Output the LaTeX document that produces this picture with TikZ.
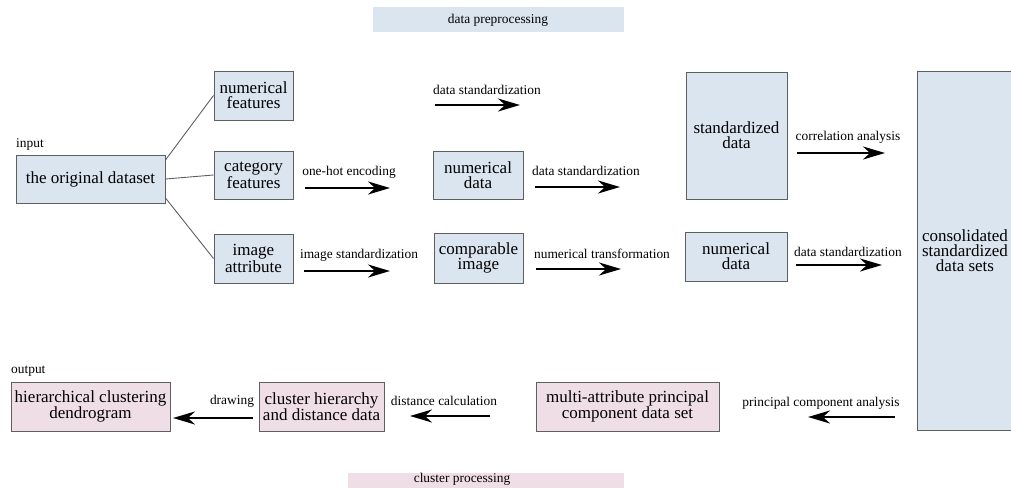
\documentclass[tikz,border=0pt]{standalone}
\usepackage{fontspec}
\setmainfont{Liberation Serif}
\newfontfamily\boxfont{Liberation Serif}
\usetikzlibrary{arrows.meta, positioning}

\definecolor{prepblue}{RGB}{218,229,240}
\definecolor{clustpink}{RGB}{240,222,230}
\definecolor{edgegray}{RGB}{95,95,95}

\begin{document}
\begin{tikzpicture}[
    x=1pt, y=-1pt,
    box/.style={rectangle, draw=edgegray, line width=1pt, fill=prepblue, inner sep=0pt,
        align=center, font=\boxfont\fontsize{17}{15}\selectfont},
    pinkbox/.style={box, fill=clustpink},
    band/.style={rectangle, inner sep=0pt, minimum height=25pt},
    lbl/.style={inner sep=0pt, font=\boxfont\fontsize{13.4}{15}\selectfont},
    arrow/.style={-{Stealth[length=22pt, width=13pt, inset=7pt]}, line width=2.4pt},
    branch/.style={draw=edgegray, line width=0.9pt}
]
    \useasboundingbox (0,0) rectangle (1011,487);

    % stage bands
    \node[band, fill=prepblue, minimum width=251pt] (prep) at (498.5,19.5) {};
    \node[lbl] (preplbl) at (498,20) {data preprocessing};
    \node[band, fill=clustpink, minimum width=276pt] (clus) at (486,485.5) {};
    \node[lbl] (cluslbl) at (462,479) {cluster processing};

    % data preprocessing
    \node[lbl, anchor=west] (inlbl) at (16,144) {input};
    \node[box, minimum width=149pt, minimum height=48pt] (orig) at (90.5,179) {the original dataset};
    \node[box, minimum width=79pt, minimum height=49pt] (numf) at (253.5,95.5) {numerical\\features};
    \node[box, minimum width=79pt, minimum height=48pt] (catf) at (253.5,175) {category\\features};
    \node[box, minimum width=79pt, minimum height=49pt] (imga) at (253.5,258.5) {image\\attribute};
    \node[box, minimum width=90pt, minimum height=48pt] (numd) at (478,175) {numerical\\data};
    \node[box, minimum width=89pt, minimum height=50pt] (cmpi) at (478.5,258) {comparable\\image};
    \node[box, minimum width=101pt, minimum height=127pt] (stdd) at (736.5,135.5) {standardized\\data};
    \node[box, minimum width=102pt, minimum height=49pt] (numd2) at (736,256.5) {numerical\\data};
    \node[box, minimum width=96pt, minimum height=359pt] (cons) at (965,250.5) {consolidated\\standardized\\data sets};

    \draw[branch] ([yshift=19pt]orig.east) -- (numf.west);
    \draw[branch] ([yshift=0pt]orig.east) -- (catf.west);
    \draw[branch] ([yshift=-19pt]orig.east) -- (imga.west);

    % cluster processing
    \node[lbl, anchor=west] (outlbl) at (11,371) {output};
    \node[pinkbox, minimum width=159pt, minimum height=49pt] (dend) at (90.5,406.5) {hierarchical clustering\\dendrogram};
    \node[pinkbox, minimum width=125pt, minimum height=49pt] (hier) at (321.5,406.5) {cluster hierarchy\\and distance data};
    \node[pinkbox, minimum width=183pt, minimum height=49pt] (pcds) at (627.5,406.5) {multi-attribute principal\\component data set};

    % step arrows and their labels
    \coordinate (oheS) at (305,188);  \coordinate (oheE) at (390,188);
    \coordinate (imsS) at (304,271);  \coordinate (imsE) at (390,271);
    \coordinate (ds1S) at (435,105);  \coordinate (ds1E) at (520,105);
    \coordinate (ds2S) at (535,187);  \coordinate (ds2E) at (620,187);
    \coordinate (ntS)  at (536,269);  \coordinate (ntE)  at (621,269);
    \coordinate (caS)  at (797,153);  \coordinate (caE)  at (885,153);
    \coordinate (ds3S) at (796,265);  \coordinate (ds3E) at (882,265);
    \coordinate (pcaS) at (895,417);  \coordinate (pcaE) at (808,417);
    \coordinate (dcS)  at (490,416);  \coordinate (dcE)  at (410,416);
    \coordinate (drS)  at (253,418);  \coordinate (drE)  at (173,418);

    \node[lbl] (ohe) at (349,172) {one-hot encoding};
    \node[lbl] (ims) at (359,255) {image standardization};
    \node[lbl] (ds1) at (487,90) {data standardization};
    \node[lbl] (ds2) at (586,171) {data standardization};
    \node[lbl] (nt)  at (602,254) {numerical transformation};
    \node[lbl] (ca)  at (848,137) {correlation analysis};
    \node[lbl] (ds3) at (848,252) {data standardization};
    \node[lbl] (pca) at (821,403) {principal component analysis};
    \node[lbl] (dc)  at (444,401) {distance calculation};
    \node[lbl] (dr)  at (232,401) {drawing};

    \draw[arrow] (oheS) -- (oheE);
    \draw[arrow] (imsS) -- (imsE);
    \draw[arrow] (ds1S) -- (ds1E);
    \draw[arrow] (ds2S) -- (ds2E);
    \draw[arrow] (ntS) -- (ntE);
    \draw[arrow] (caS) -- (caE);
    \draw[arrow] (ds3S) -- (ds3E);
    \draw[arrow] (pcaS) -- (pcaE);
    \draw[arrow] (dcS) -- (dcE);
    \draw[arrow] (drS) -- (drE);
\end{tikzpicture}
\end{document}
